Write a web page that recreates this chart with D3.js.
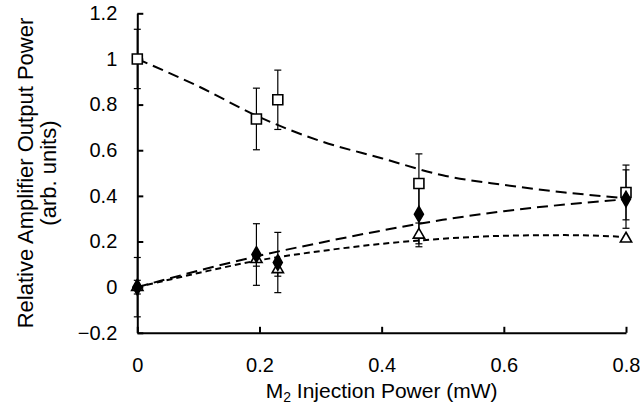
<!DOCTYPE html>
<html>
<head>
<meta charset="utf-8">
<script src="https://cdn.jsdelivr.net/npm/d3@7"></script>
<style>
  body { margin: 0; background: #fff; }
  text { font-family: "Liberation Sans", Arial, sans-serif; fill: #000; }
</style>
</head>
<body>
<div id="app"></div>
<script>
// measured points
const powerX = [0, 0.195, 0.23, 0.461, 0.8]
const squareY = [1.0, 0.737, 0.821, 0.454, 0.415]
const squareErr = [0.13, 0.135, 0.13, 0.13, 0.12]
const diamondY = [0, 0.143, 0.108, 0.32, 0.386]
const diamondErr = [0.13, 0.135, 0.132, 0.13, 0.128]
const triangleY = [0, 0.122, 0.078, 0.229, 0.212]
const triangleErr = [0.03, 0.03, 0.03, 0.052, 0.0]

// fitted curves
const fitX = [0, 0.1, 0.2, 0.3, 0.4, 0.5, 0.6, 0.7, 0.8]
const squareFit = [1.0, 0.88, 0.745, 0.64, 0.565, 0.49, 0.448, 0.415, 0.39]
const diamondFit = [0, 0.072, 0.138, 0.195, 0.248, 0.295, 0.333, 0.362, 0.385]
const triangleFit = [0, 0.062, 0.118, 0.158, 0.19, 0.212, 0.225, 0.228, 0.22]

const xTicks = [0, 0.2, 0.4, 0.6, 0.8]
const yTicks = [-0.2, 0, 0.2, 0.4, 0.6, 0.8, 1, 1.2]

const w = 640
const h = 411

const svg = d3.select("#app")
    .append("svg")
    .attr("width", w)
    .attr("height", h)

const xScale = d3.scaleLinear().domain([0, 0.8]).range([137.3, 626])
const yScale = d3.scaleLinear().domain([-0.2, 1.2]).range([332.8, 13.3])

const xAxis = d3.axisBottom(xScale)
    .tickValues(xTicks)
    .tickFormat(d => d === 0 ? "0" : d3.format(".1f")(d))
    .tickSizeInner(-6)
    .tickSizeOuter(0)
    .tickPadding(25)

const yAxis = d3.axisLeft(yScale)
    .tickValues(yTicks)
    .tickFormat(d => Math.abs(d) < 1e-9 ? "0" : (d === 1 ? "1" : d3.format(".1f")(d)))
    .tickSizeInner(-6)
    .tickSizeOuter(0)
    .tickPadding(20)

svg.append("g")
    .attr("transform", `translate(0,${yScale(-0.2)})`)
    .call(xAxis)
    .call(g => g.selectAll("text").attr("font-size", 20).attr("font-family", "Liberation Sans"))
    .call(g => g.selectAll("line, path").attr("stroke", "#000").attr("stroke-width", 2))

svg.append("g")
    .attr("transform", `translate(${xScale(0)},0)`)
    .call(yAxis)
    .call(g => g.selectAll("text").attr("font-size", 20).attr("font-family", "Liberation Sans"))
    .call(g => g.selectAll("line, path").attr("stroke", "#000").attr("stroke-width", 2))

// fit lines
const line = d3.line()
    .x(d => xScale(d[0]))
    .y(d => yScale(d[1]))
    .curve(d3.curveMonotoneX)

const fits = [
    { vals: squareFit, dash: "11,6" },
    { vals: diamondFit, dash: "11,6" },
    { vals: triangleFit, dash: "6,4" }
]

fits.forEach(f => {
    svg.append("path")
        .datum(fitX.map((x, i) => [x, f.vals[i]]))
        .attr("d", line)
        .attr("fill", "none")
        .attr("stroke", "#000")
        .attr("stroke-width", 2)
        .attr("stroke-dasharray", f.dash)
})

// error bars; triangles drawn before diamonds so diamonds sit on top
const series = [
    { ys: squareY, errs: squareErr, type: "square" },
    { ys: triangleY, errs: triangleErr, type: "triangle" },
    { ys: diamondY, errs: diamondErr, type: "diamond" }
]

series.forEach(s => {
    const pts = powerX.map((x, i) => ({ x, y: s.ys[i], e: s.errs[i] })).filter(d => d.e > 0)
    const g = svg.append("g").attr("stroke", "#000").attr("stroke-width", 1.2)
    g.selectAll(".bar").data(pts).enter().append("line")
        .attr("x1", d => xScale(d.x)).attr("x2", d => xScale(d.x))
        .attr("y1", d => yScale(d.y - d.e)).attr("y2", d => yScale(d.y + d.e))
    g.selectAll(".capT").data(pts).enter().append("line")
        .attr("x1", d => xScale(d.x) - 3.5).attr("x2", d => xScale(d.x) + 3.5)
        .attr("y1", d => yScale(d.y + d.e)).attr("y2", d => yScale(d.y + d.e))
    g.selectAll(".capB").data(pts).enter().append("line")
        .attr("x1", d => xScale(d.x) - 3.5).attr("x2", d => xScale(d.x) + 3.5)
        .attr("y1", d => yScale(d.y - d.e)).attr("y2", d => yScale(d.y - d.e))
})

// markers
const symbols = {
    square: { type: d3.symbolSquare, size: 100, fill: "#fff" },
    diamond: { type: d3.symbolDiamond, size: 70, fill: "#000" },
    triangle: { type: d3.symbolTriangle, size: 55, fill: "#fff" }
}

series.forEach(s => {
    const sym = symbols[s.type]
    svg.append("g").selectAll("path")
        .data(powerX.map((x, i) => ({ x, y: s.ys[i] })))
        .enter()
        .append("path")
        .attr("d", d3.symbol().type(sym.type).size(sym.size))
        .attr("transform", d => `translate(${xScale(d.x)},${yScale(d.y)})`)
        .attr("fill", sym.fill)
        .attr("stroke", "#000")
        .attr("stroke-width", 1.6)
})

// axis titles
const xt = svg.append("text")
    .attr("x", (xScale(0) + xScale(0.8)) / 2)
    .attr("y", 398)
    .attr("text-anchor", "middle")
    .attr("font-size", 21)
xt.append("tspan").text("M")
xt.append("tspan").text("2").attr("font-size", 14).attr("dy", 4)
xt.append("tspan").text(" Injection Power (mW)").attr("dy", -4)

const yt = svg.append("text")
    .attr("transform", `translate(33,${(yScale(-0.2) + yScale(1.2)) / 2}) rotate(-90)`)
    .attr("text-anchor", "middle")
    .attr("font-size", 22)
yt.append("tspan").attr("x", 0).attr("y", 0).text("Relative Amplifier Output Power")
yt.append("tspan").attr("x", 0).attr("y", 23).text("(arb. units)")
</script>
</body>
</html>
